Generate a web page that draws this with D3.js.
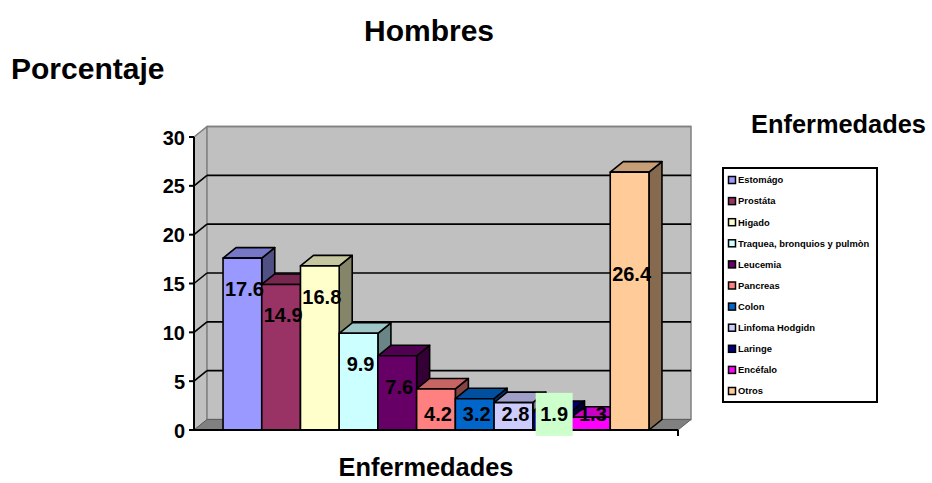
<!DOCTYPE html>
<html><head><meta charset="utf-8">
<script src="https://cdn.jsdelivr.net/npm/d3@7"></script>
<style>body{margin:0;background:#fff;}svg{display:block;font-family:"Liberation Sans",Arial,sans-serif;font-weight:bold;}</style>
</head><body><div id="chart"></div>
<script>
const categories = ["Estomágo","Prostáta","Higado","Traquea, bronquios y pulmòn","Leucemia","Pancreas","Colon","Linfoma Hodgidn","Laringe","Encéfalo","Otros"];
const values = [17.6,14.9,16.8,9.9,7.6,4.2,3.2,2.8,1.9,1.3,26.4];
const colors = ["#9999FF","#993366","#FFFFCC","#CCFFFF","#660066","#FF8080","#0066CC","#CCCCFF","#000080","#FF00FF","#FFCC99"];
const yTicks = [0,5,10,15,20,25,30];
const title = "Hombres", yTitle = "Porcentaje", xTitle = "Enfermedades", legendTitle = "Enfermedades";

const W = 932, H = 483;
const svg = d3.select("#chart").append("svg").attr("width", W).attr("height", H);
const x0 = 194, x1 = 678, yBase = 430, yTop = 137;
const DX = 13, DY = -10.5;
const y = d3.scaleLinear().domain([0,30]).range([yBase, yTop]);
const x = d3.scaleBand().domain(categories).range([x0, x1]).paddingInner(0).paddingOuter(0.75);
const pts = a => a.map(p => p.join(",")).join(" ");

// walls
svg.append("polygon").attr("points", pts([[x0,y(30)],[x0+DX,y(30)+DY],[x0+DX,yBase+DY],[x0,yBase]]))
  .attr("fill","#C0C0C0").attr("stroke","#808080").attr("stroke-width",1);
svg.append("rect").attr("x", x0+DX).attr("y", y(30)+DY).attr("width", x1-x0).attr("height", yBase-y(30))
  .attr("fill","#C0C0C0").attr("stroke","#808080").attr("stroke-width",1.5);
svg.append("polygon").attr("points", pts([[x0,yBase],[x1,yBase],[x1+DX,yBase+DY],[x0+DX,yBase+DY]]))
  .attr("fill","#808080").attr("stroke","#606060").attr("stroke-width",1);

// gridlines
yTicks.filter(v => v > 0).forEach(v => {
  svg.append("line").attr("x1", x0+DX).attr("x2", x1+DX).attr("y1", y(v)+DY).attr("y2", y(v)+DY)
    .attr("stroke", v===30 ? "#808080" : "#000").attr("stroke-width", v===30?1.5:1.6);
  svg.append("line").attr("x1", x0).attr("x2", x0+DX).attr("y1", y(v)).attr("y2", y(v)+DY)
    .attr("stroke", v===30 ? "#808080" : "#000").attr("stroke-width",1.6);
});

// bars
const bw = x.bandwidth();
categories.forEach((c,i) => {
  const v = values[i], bx = x(c), ty = y(v);
  const col = d3.rgb(colors[i]);
  const top = d3.rgb(col.r*0.78, col.g*0.78, col.b*0.78);
  const side = d3.rgb(col.r*0.52, col.g*0.52, col.b*0.52);
  const g = svg.append("g").attr("stroke","#000").attr("stroke-width",1.6).attr("stroke-linejoin","round");
  g.append("polygon").attr("points", pts([[bx+bw,ty],[bx+bw+DX,ty+DY],[bx+bw+DX,yBase+DY],[bx+bw,yBase]])).attr("fill", side);
  g.append("polygon").attr("points", pts([[bx,ty],[bx+DX,ty+DY],[bx+bw+DX,ty+DY],[bx+bw,ty]])).attr("fill", top);
  g.append("rect").attr("x", bx).attr("y", ty).attr("width", bw).attr("height", yBase-ty).attr("fill", col);
});

// axes
const yAxis = svg.append("g");
yAxis.append("line").attr("x1",x0).attr("x2",x0).attr("y1",y(30)).attr("y2",yBase+1).attr("stroke","#000").attr("stroke-width",2);
yTicks.forEach(v => {
  yAxis.append("line").attr("x1",x0-5).attr("x2",x0).attr("y1",y(v)).attr("y2",y(v)).attr("stroke","#000").attr("stroke-width",2);
  yAxis.append("text").attr("x",x0-9).attr("y",y(v)+7.5).attr("text-anchor","end").attr("font-size",20).text(v);
});
svg.append("line").attr("x1",x0-1).attr("x2",x1).attr("y1",yBase).attr("y2",yBase).attr("stroke","#000").attr("stroke-width",2);
svg.append("line").attr("x1",x1).attr("x2",x1).attr("y1",yBase).attr("y2",yBase+6).attr("stroke","#000").attr("stroke-width",2);

// data labels
categories.forEach((c,i) => {
  const v = values[i];
  const cy = Math.max(Math.min(y(v)+31, y(1.6)), y(16));
  const cx = x(c) + bw/2 + 2;
  if (c === "Laringe") {
    svg.append("rect").attr("x", cx-18.5).attr("y", cy-21.5).attr("width",37).attr("height",43).attr("fill","#CCFFCC");
  }
  svg.append("text").attr("x",cx).attr("y",cy+7).attr("text-anchor","middle").attr("font-size",20).text(v);
});

// titles
svg.append("text").attr("x",429).attr("y",41).attr("text-anchor","middle").attr("font-size",30).text(title);
svg.append("text").attr("x",11).attr("y",79).attr("font-size",30).text(yTitle);
svg.append("text").attr("x",426).attr("y",476).attr("text-anchor","middle").attr("font-size",25.4).text(xTitle);
svg.append("text").attr("x",751).attr("y",133).attr("font-size",25.4).text(legendTitle);

// legend
const lg = svg.append("g");
lg.append("rect").attr("x",723).attr("y",168).attr("width",154).attr("height",234).attr("fill","#fff").attr("stroke","#000").attr("stroke-width",2);
categories.forEach((c,i) => {
  const cy = 180 + i*21.1;
  lg.append("rect").attr("x",728.5).attr("y",cy-3.5).attr("width",7).attr("height",7).attr("fill",colors[i]).attr("stroke","#000").attr("stroke-width",1.5);
  lg.append("text").attr("x",738).attr("y",cy+3.3).attr("font-size",9.4).text(c);
});
</script></body></html>
